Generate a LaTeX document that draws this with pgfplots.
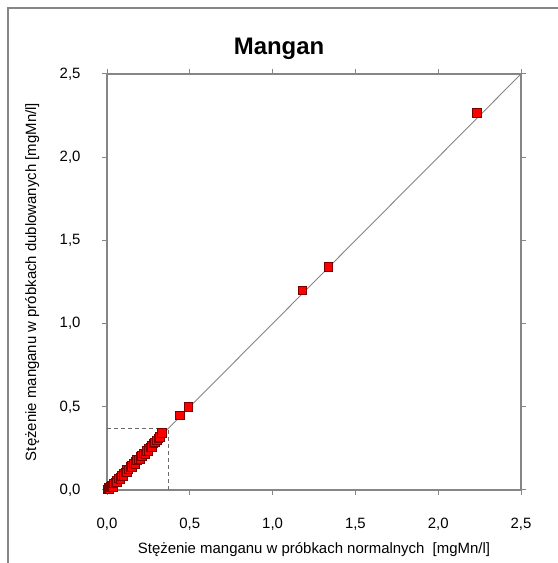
\documentclass[border=0pt]{standalone}
\usepackage{pgfplots}
\pgfplotsset{compat=1.18}
\usepackage{fontspec}
\setmainfont{Liberation Sans}
\definecolor{axgray}{HTML}{868686}
\definecolor{dashgray}{HTML}{6A6A6A}
\definecolor{mkedge}{HTML}{7A0000}
\begin{document}
\begin{tikzpicture}[x=1bp,y=1bp]
\path[use as bounding box] (0,0) rectangle (558,563);
\draw[axgray, line width=2bp] (8,0) -- (8,555) -- (560,555);
\node[font=\bfseries\fontsize{24}{28}\selectfont] at (279,514) {Mangan};
\begin{axis}[
  at={(107bp,73bp)}, anchor=south west,
  scale only axis, width=414bp, height=416bp,
  xmin=0, xmax=2.5, ymin=0, ymax=2.5,
  xtick={0,0.5,...,2.5}, ytick={0,0.5,...,2.5},
  tick align=outside, major tick length=5bp,
  tick style={axgray, line width=1bp},
  axis line style={axgray, line width=1.3bp},
  tick label style={font=\fontsize{15}{18}\selectfont},
  xticklabel style={yshift=-20bp},
  yticklabel style={xshift=-18bp},
  /pgf/number format/.cd, use comma, fixed, fixed zerofill, precision=1, assume math mode=true,
  /pgfplots/.cd,
  xlabel={Stężenie manganu w próbkach normalnych\ \ [mgMn/l]},
  ylabel={Stężenie manganu w próbkach dublowanych [mgMn/l]},
  xlabel style={at={(axis description cs:0.5,-0.144)}, anchor=center, font=\fontsize{15}{18}\selectfont},
  ylabel style={at={(axis description cs:-0.181,0.5)}, anchor=center, font=\fontsize{15}{18}\selectfont},
  clip=false,
]
\addplot[only marks, mark=square*, mark size=4.2bp, mark options={fill=red, draw=mkedge, line width=0.7bp}] coordinates {
(0.005,0.005)(0.01,0.012)(0.015,0.008)(0.02,0.018)(0.03,0.025)(0.035,0.02)(0.04,0.04)(0.05,0.045)
(0.06,0.055)(0.06,0.045)(0.07,0.07)(0.08,0.075)(0.08,0.065)(0.09,0.085)(0.10,0.10)(0.10,0.085)
(0.11,0.105)(0.12,0.12)(0.12,0.105)(0.13,0.125)(0.14,0.14)(0.15,0.145)(0.15,0.135)(0.16,0.16)
(0.17,0.17)(0.17,0.155)(0.18,0.18)(0.19,0.185)(0.20,0.20)(0.20,0.185)(0.21,0.205)(0.22,0.22)
(0.23,0.215)(0.24,0.235)(0.25,0.25)(0.25,0.235)(0.26,0.255)(0.27,0.27)(0.27,0.255)(0.28,0.28)
(0.29,0.285)(0.30,0.30)(0.31,0.31)(0.32,0.32)(0.332,0.343)
(0.44,0.45)(0.49,0.50)(1.18,1.20)(1.335,1.34)(2.234,2.266)
};
\addplot[axgray, line width=0.9bp] coordinates {(0,0)(2.5,2.5)};
\addplot[dashgray, dash pattern=on 4bp off 3bp, line width=1.2bp] coordinates {(0,0.37)(0.37,0.37)(0.37,0)};
\end{axis}
\end{tikzpicture}
\end{document}
